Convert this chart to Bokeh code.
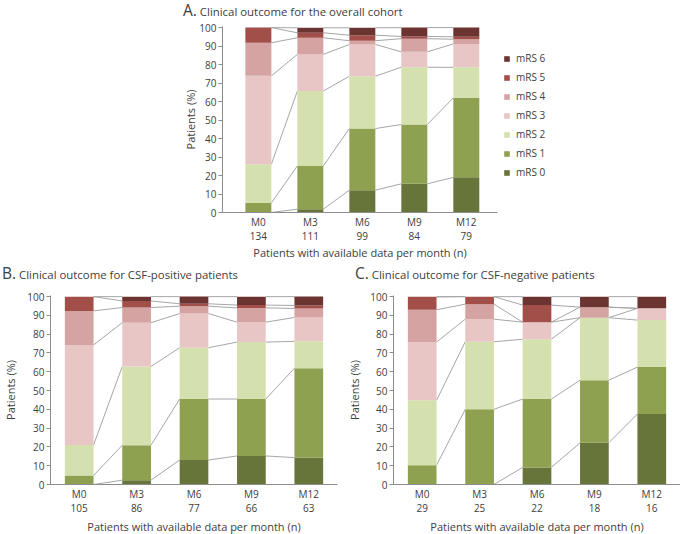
from bokeh.plotting import figure
from bokeh.models import ColumnDataSource, Range1d, FixedTicker, Legend, LegendItem, Div, Spacer
from bokeh.layouts import column, row
from bokeh.embed import file_html
from bokeh.resources import INLINE

months = ["M0", "M3", "M6", "M9", "M12"]
levels = ["mRS 0", "mRS 1", "mRS 2", "mRS 3", "mRS 4", "mRS 5", "mRS 6"]
colors = ["#67743a", "#8ea151", "#d4e0ad", "#e8c6c5", "#d5a3a2", "#a24f4a", "#6c3431"]

n_all = [134, 111, 99, 84, 79]
n_pos = [105, 86, 77, 66, 63]
n_neg = [29, 25, 22, 18, 16]

# Panel A: overall cohort (% of patients per mRS level)
a_mrs0 = [0.0, 1.8, 12.1, 15.5, 19.0]
a_mrs1 = [5.2, 23.4, 33.3, 32.1, 43.0]
a_mrs2 = [20.9, 40.5, 28.3, 31.0, 16.5]
a_mrs3 = [47.8, 19.8, 17.2, 8.3, 12.7]
a_mrs4 = [17.9, 9.0, 2.0, 7.1, 2.5]
a_mrs5 = [8.2, 2.7, 3.0, 1.2, 1.3]
a_mrs6 = [0.0, 2.7, 4.0, 4.8, 5.1]

# Panel B: CSF-positive patients
b_mrs0 = [0.0, 2.3, 13.0, 15.2, 14.3]
b_mrs1 = [4.8, 18.6, 32.5, 30.3, 47.6]
b_mrs2 = [16.2, 41.9, 27.3, 30.3, 14.3]
b_mrs3 = [53.3, 23.3, 18.2, 10.6, 12.7]
b_mrs4 = [18.1, 8.1, 3.9, 7.6, 4.8]
b_mrs5 = [7.6, 3.5, 1.3, 1.5, 1.6]
b_mrs6 = [0.0, 2.3, 3.9, 4.5, 4.8]

# Panel C: CSF-negative patients
c_mrs0 = [0.0, 0.0, 9.1, 22.2, 37.5]
c_mrs1 = [10.3, 40.0, 36.4, 33.3, 25.0]
c_mrs2 = [34.5, 36.0, 31.8, 33.3, 25.0]
c_mrs3 = [31.0, 12.0, 9.1, 0.0, 6.25]
c_mrs4 = [17.2, 8.0, 0.0, 5.6, 0.0]
c_mrs5 = [6.9, 4.0, 9.1, 0.0, 0.0]
c_mrs6 = [0.0, 0.0, 4.5, 5.6, 6.25]

titles = ["Clinical outcome for the overall cohort",
          "Clinical outcome for CSF-positive patients",
          "Clinical outcome for CSF-negative patients"]

FONT = "Open Sans"
TXT = "#404040"
AXC = "#8c8c8c"
LINEC = "#a6a6a6"
BAR_W = 0.5
Y_TOP = 100.6


def make_panel(series, ns, fw, fh, left, right, top, bottom,
               x_start, x_end, ylab_standoff, xlab_standoff, legend=False):
    p = figure(frame_width=fw, frame_height=fh, output_backend="svg", toolbar_location=None,
               title=None,
               x_range=Range1d(x_start, x_end), y_range=Range1d(0, Y_TOP),
               min_border_left=left, min_border_right=right,
               min_border_top=top, min_border_bottom=bottom)
    p.outline_line_color = None
    p.grid.visible = False

    xs = list(range(len(months)))
    data = {"x": xs}
    for lv, s in zip(levels, series):
        data[lv] = s
    src = ColumnDataSource(data)

    # series connector lines between the tops of the stacked segments
    x0, y0, x1, y1 = [], [], [], []
    cum = [0.0] * len(months)
    for s in series:
        cum = [c + v for c, v in zip(cum, s)]
        for i in range(len(months) - 1):
            x0.append(xs[i] + BAR_W / 2)
            x1.append(xs[i + 1] - BAR_W / 2)
            y0.append(min(cum[i], 100.0))
            y1.append(min(cum[i + 1], 100.0))
    p.segment(x0=x0, y0=y0, x1=x1, y1=y1, line_color=LINEC, line_width=1)

    rs = p.vbar_stack(levels, x="x", width=BAR_W, source=src, color=colors,
                      line_color=None)

    p.xaxis.ticker = FixedTicker(ticks=xs)
    p.xaxis.major_label_overrides = {i: f"{m}\n{n}" for i, (m, n) in enumerate(zip(months, ns))}
    p.xaxis.major_label_text_line_height = 1.0
    p.xaxis.major_tick_line_color = None
    p.xaxis.minor_tick_line_color = None
    p.xaxis.axis_label = "Patients with available data per month (n)"
    p.xaxis.axis_label_standoff = xlab_standoff
    p.xaxis.major_label_standoff = -4

    p.yaxis.ticker = FixedTicker(ticks=list(range(0, 101, 10)))
    p.yaxis.major_tick_out = 4
    p.yaxis.major_tick_in = 0
    p.yaxis.minor_tick_line_color = None
    p.yaxis.major_tick_line_color = AXC
    p.yaxis.axis_label = "Patients (%)"
    p.yaxis.axis_label_standoff = ylab_standoff
    p.yaxis.major_label_standoff = 2

    for ax in (p.xaxis, p.yaxis):
        ax.axis_line_color = AXC
        ax.major_label_text_font = FONT
        ax.major_label_text_font_size = "10px"
        ax.major_label_text_color = TXT
        ax.axis_label_text_font = FONT
        ax.axis_label_text_font_size = "11px"
        ax.axis_label_text_font_style = "normal"
        ax.axis_label_text_color = TXT

    if legend:
        items = [LegendItem(label=lv, renderers=[r]) for lv, r in zip(levels, rs)][::-1]
        lg = Legend(items=items, location=(6, 33), padding=0, margin=0,
                    spacing=5, label_height=12, glyph_width=7, glyph_height=7,
                    label_standoff=6, border_line_color=None,
                    background_fill_alpha=0, label_text_font=FONT,
                    label_text_font_size="10px", label_text_color=TXT)
        p.add_layout(lg, "right")
    return p


def title_div(letter, text, width, height):
    return Div(text=f"<span style='font-size:15.5px'>{letter}</span> {text}",
               width=width, height=height, margin=0,
               styles={"font-family": FONT, "font-size": "11.4px", "color": TXT,
                       "line-height": f"{height}px", "white-space": "nowrap",
                       "overflow": "visible", "margin": "0", "padding": "0"})


def gap(w, h):
    return Spacer(width=w, height=h, margin=0)


rowA_title = row(gap(183, 20), title_div("A.", titles[0], 497, 20), spacing=0)

pA = make_panel([a_mrs0, a_mrs1, a_mrs2, a_mrs3, a_mrs4, a_mrs5, a_mrs6], n_all,
                fw=275, fh=186, left=222, right=183, top=6, bottom=50,
                x_start=-0.69, x_end=4.6, ylab_standoff=-2, xlab_standoff=-1, legend=True)

rowBC_title = row(gap(2, 22), title_div("B.", titles[1], 338, 22),
                  gap(15, 22), title_div("C.", titles[2], 325, 22), spacing=0)

pB = make_panel([b_mrs0, b_mrs1, b_mrs2, b_mrs3, b_mrs4, b_mrs5, b_mrs6], n_pos,
                fw=287, fh=189, left=50, right=3, top=11, bottom=50,
                x_start=-0.5, x_end=4.5, ylab_standoff=6, xlab_standoff=1)

pC = make_panel([c_mrs0, c_mrs1, c_mrs2, c_mrs3, c_mrs4, c_mrs5, c_mrs6], n_neg,
                fw=287, fh=189, left=53, right=0, top=11, bottom=50,
                x_start=-0.5, x_end=4.5, ylab_standoff=5, xlab_standoff=1)

layout = column(rowA_title, pA, rowBC_title, row(pB, pC, spacing=0), spacing=0)

with open("out.html", "w") as f:
    f.write(file_html(layout, INLINE))
